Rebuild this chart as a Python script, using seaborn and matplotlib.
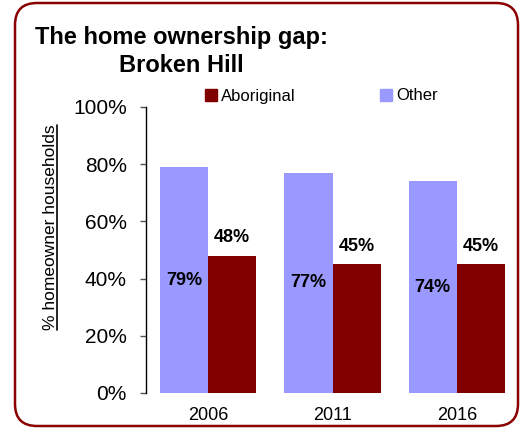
import matplotlib
matplotlib.use("Agg")
import matplotlib.pyplot as plt
from matplotlib.patches import FancyBboxPatch, Patch
from matplotlib.lines import Line2D
from matplotlib.ticker import FuncFormatter
import seaborn as sns
import pandas as pd

# data
years = ["2006", "2011", "2016"]
other_pct = [79, 77, 74]
aboriginal_pct = [48, 45, 45]
groups = ["Other", "Aboriginal"]
colors = {"Other": "#9999ff", "Aboriginal": "#800000"}
yticks = [0, 20, 40, 60, 80, 100]

df = pd.DataFrame({
    "year": years * 2,
    "group": ["Other"] * len(years) + ["Aboriginal"] * len(years),
    "value": other_pct + aboriginal_pct,
})

sns.set_style("white")
plt.rcParams["font.family"] = ["Liberation Sans", "DejaVu Sans"]
plt.rcParams.update({"text.color": "black", "axes.labelcolor": "black",
                     "xtick.color": "black", "ytick.color": "black"})

fig = plt.figure(figsize=(5.28, 4.28), dpi=100)
ax = fig.add_axes([146 / 528, 1 - 393 / 428, 373 / 528, 286 / 428])

sns.barplot(data=df, x="year", y="value", hue="group", hue_order=groups,
            palette=colors, saturation=1, width=0.774, linewidth=0,
            legend=False, ax=ax)

ax.set_ylim(0, 100)
ax.set_xlim(-0.5, 2.5)
ax.set_yticks(yticks)
ax.yaxis.set_major_formatter(FuncFormatter(lambda v, p: f"{v:.0f}%"))
ax.tick_params(axis="y", labelsize=15, length=4.3, width=1, color="#555555",
               labelcolor="black", pad=9.4, left=True)
ax.tick_params(axis="x", labelsize=13, length=0, pad=10, labelcolor="black")
ax.set_xlabel("")
ax.set_ylabel("% homeowner households", fontsize=12.5, color="black")
ax.yaxis.set_label_coords(-0.236, 0.579)

for side in ["top", "right", "bottom"]:
    ax.spines[side].set_visible(False)
ax.spines["left"].set_color("black")
ax.spines["left"].set_linewidth(1)

# value labels: Other inside the bar, Aboriginal above it
ax.bar_label(ax.containers[0], labels=[f"{v}%" for v in other_pct],
             label_type="center", fontsize=13, fontweight="bold")
ax.bar_label(ax.containers[1], labels=[f"{v}%" for v in aboriginal_pct],
             label_type="edge", padding=7, fontsize=13, fontweight="bold")

# legend (Aboriginal listed first)
handles = [Patch(color=colors["Aboriginal"]), Patch(color=colors["Other"])]
fig.legend(handles, ["Aboriginal", "Other"], ncol=2, frameon=False,
           loc="center left", bbox_to_anchor=(205 / 528, 1 - 96 / 428),
           fontsize=12, handlelength=0.7, handleheight=0.7,
           handletextpad=0.25, columnspacing=5.1, borderpad=0,
           borderaxespad=0)

# title
fig.text(181 / 528, 1 - 44 / 428, "The home ownership gap:", ha="center",
         va="baseline", fontsize=17, fontweight="bold")
fig.text(181 / 528, 1 - 72 / 428, "Broken Hill", ha="center",
         va="baseline", fontsize=17, fontweight="bold")

# rounded border round the whole chart
border = FancyBboxPatch((0.15, 0.02), 5.03, 4.23,
                        boxstyle="round,pad=0,rounding_size=0.22",
                        transform=fig.dpi_scale_trans, fill=False,
                        edgecolor="#8b0000", linewidth=1.8)
fig.add_artist(border)

# underline the y-axis label
fig.canvas.draw()
bb = ax.yaxis.label.get_window_extent().transformed(fig.transFigure.inverted())
fig.add_artist(Line2D([bb.x1 - 0.002, bb.x1 - 0.002], [bb.y0, bb.y1],
                      transform=fig.transFigure, color="black", linewidth=1.2))

fig.savefig("out.png", dpi=100)
